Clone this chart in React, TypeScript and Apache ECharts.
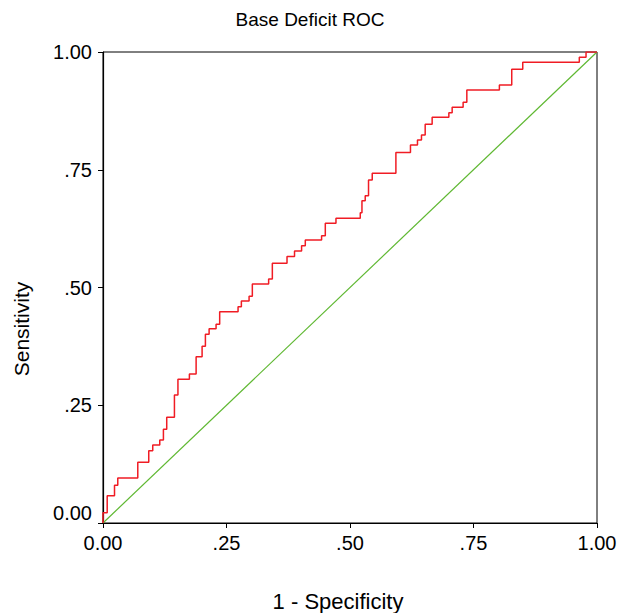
import React, { useEffect, useRef } from "react";
import * as echarts from "echarts";

const fpr = [0, 0, 0.0085, 0.0233, 0.0299, 0.0704, 0.0926, 0.1007, 0.1149, 0.1223, 0.129, 0.1446, 0.1517, 0.1749, 0.1885, 0.2006, 0.2073, 0.2148, 0.2289, 0.2362, 0.2734, 0.2801, 0.2957, 0.3023, 0.3353, 0.3428, 0.3725, 0.3877, 0.402, 0.4095, 0.4425, 0.45, 0.4716, 0.5208, 0.5242, 0.5308, 0.5375, 0.545, 0.5929, 0.6224, 0.6366, 0.6447, 0.6522, 0.6663, 0.7001, 0.7068, 0.729, 0.7365, 0.8024, 0.8274, 0.8497, 0.9642, 0.9778, 1.0];
const tpr = [0, 0.0219, 0.058, 0.08, 0.0955, 0.1289, 0.1535, 0.1656, 0.1762, 0.1989, 0.2244, 0.2718, 0.3051, 0.3163, 0.3531, 0.3752, 0.4006, 0.4125, 0.4219, 0.4486, 0.4592, 0.4713, 0.4813, 0.5074, 0.518, 0.5514, 0.5658, 0.5775, 0.5887, 0.6008, 0.61, 0.6363, 0.6469, 0.6588, 0.6843, 0.6949, 0.7282, 0.7424, 0.7866, 0.8025, 0.8132, 0.8238, 0.8465, 0.8614, 0.8711, 0.8826, 0.8932, 0.9193, 0.9299, 0.9633, 0.9781, 0.9887, 1.0, 1.0];
const refX = [0, 1];
const refY = [0, 1];
const tickValues = [0, 0.25, 0.5, 0.75, 1];
const tickLabels = ["0.00", ".25", ".50", ".75", "1.00"];

const FONT = "'Liberation Sans', Arial, Helvetica, sans-serif";

export default function App() {
  const ref = useRef<HTMLDivElement>(null);
  useEffect(() => {
    if (!ref.current) return;
    const chart = echarts.init(ref.current, null, { renderer: "svg" });
    const fmt = (v: number) => {
      const i = tickValues.findIndex((t) => Math.abs(t - v) < 1e-9);
      return i >= 0 ? tickLabels[i] : "";
    };
    chart.setOption({
      animation: false,
      backgroundColor: "#ffffff",
      textStyle: { fontFamily: FONT },
      grid: {
        left: 103,
        right: 25,
        top: 52,
        bottom: 90,
        show: true,
        borderColor: "#000",
        borderWidth: 1,
        backgroundColor: "transparent",
      },
      xAxis: {
        type: "value",
        min: 0,
        max: 1,
        interval: 0.25,
        axisLine: { show: true, onZero: false, lineStyle: { color: "#000", width: 1.2 } },
        axisTick: { show: true, length: 5, lineStyle: { color: "#000" } },
        splitLine: { show: false },
        axisLabel: { formatter: fmt, color: "#000", fontSize: 20, margin: 10, fontFamily: FONT },
      },
      yAxis: {
        type: "value",
        min: 0,
        max: 1,
        interval: 0.25,
        axisLine: { show: true, onZero: false, lineStyle: { color: "#000", width: 1.2 } },
        axisTick: { show: true, length: 5, lineStyle: { color: "#000" } },
        splitLine: { show: false },
        axisLabel: {
          formatter: fmt,
          color: "#000",
          fontSize: 20,
          margin: 11,
          fontFamily: FONT,
          verticalAlignMinLabel: "bottom",
        },
      },
      graphic: [
        {
          type: "text",
          x: 310,
          y: 19,
          style: {
            text: "Base Deficit ROC",
            fill: "#000",
            font: "19px " + FONT,
            align: "center",
            verticalAlign: "middle",
          },
        },
        {
          type: "text",
          x: 338,
          y: 601,
          style: {
            text: "1 - Specificity",
            fill: "#000",
            font: "22px " + FONT,
            align: "center",
            verticalAlign: "middle",
          },
        },
        {
          type: "text",
          x: 21,
          y: 329,
          rotation: Math.PI / 2,
          style: {
            text: "Sensitivity",
            fill: "#000",
            font: "21px " + FONT,
            align: "center",
            verticalAlign: "middle",
          },
        },
      ],
      series: [
        {
          type: "line",
          data: refX.map((x, i) => [x, refY[i]]),
          showSymbol: false,
          symbol: "none",
          lineStyle: { color: "#5fb832", width: 1.2 },
          z: 2,
        },
        {
          type: "line",
          step: "end",
          data: fpr.map((x, i) => [x, tpr[i]]),
          showSymbol: false,
          symbol: "none",
          lineStyle: { color: "#f01c24", width: 1.5 },
          z: 3,
        },
      ],
    });
    return () => chart.dispose();
  }, []);
  return <div ref={ref} style={{ width: 622, height: 613, position: "absolute", left: 0, top: 0 }} />;
}
